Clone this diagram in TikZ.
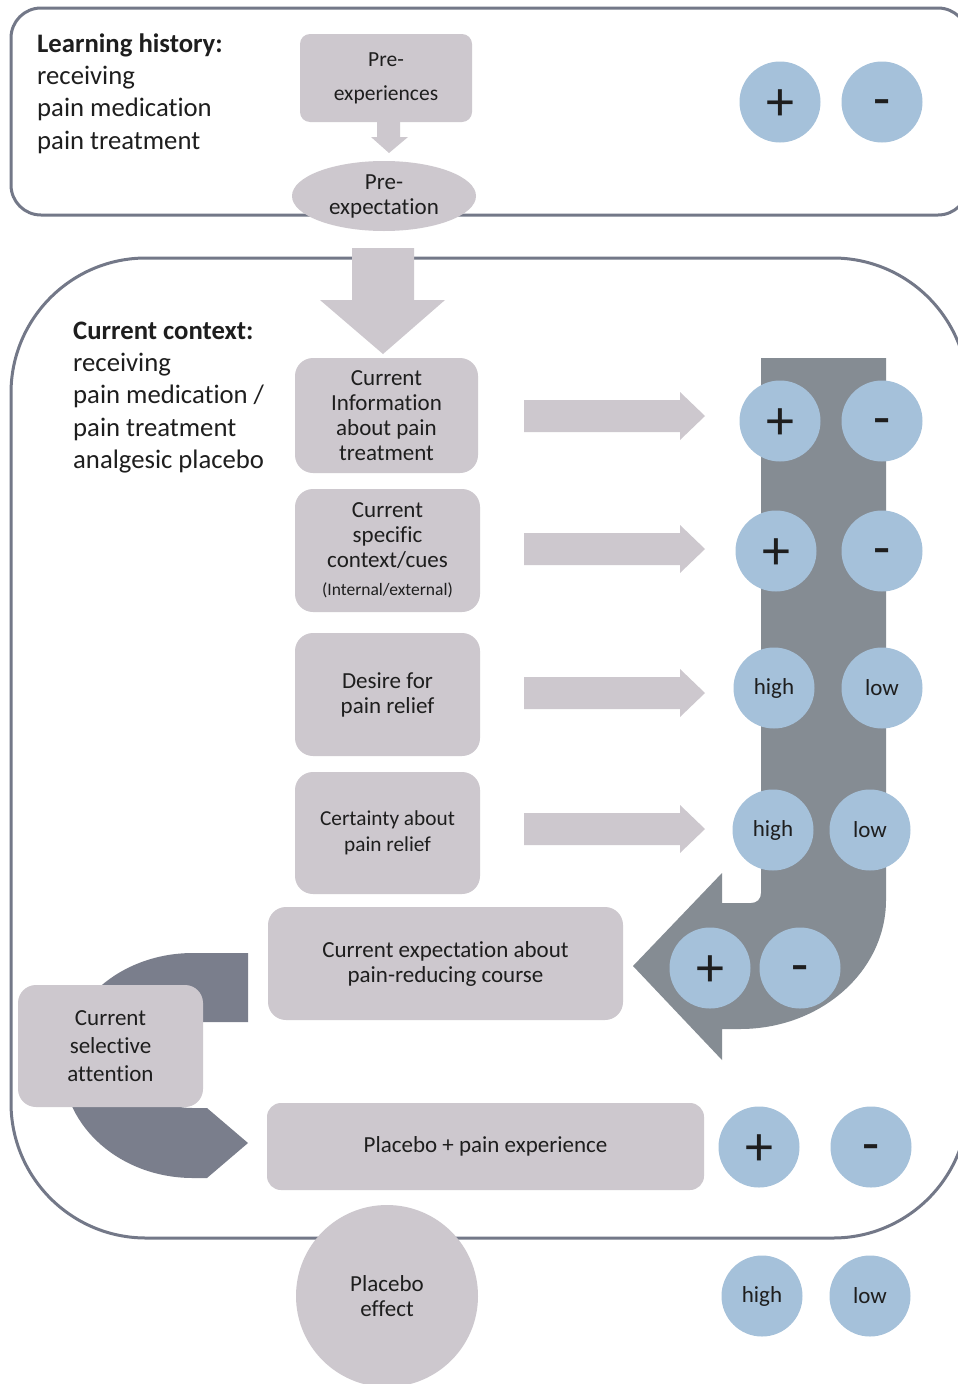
\documentclass[tikz,border=0pt]{standalone}
\usepackage{fontspec}
\setmainfont{Carlito}[Ligatures=NoCommon]
\usetikzlibrary{shapes.geometric}
\definecolor{boxc}{HTML}{CDC8CE}
\definecolor{bluec}{HTML}{A5C1DA}
\definecolor{grayc}{HTML}{858C93}
\definecolor{darkc}{HTML}{7A7E8C}
\definecolor{framec}{HTML}{737888}
\definecolor{txt}{HTML}{1E1E1E}
\newcommand\lightarrow[1]{\fill[boxc, shift={(0,#1)}] (524,-16) -- (680,-16) -- (680,-24) -- (705,0) -- (680,24) -- (680,16) -- (524,16) -- cycle;}
\begin{document}
\begin{tikzpicture}[x=1pt,y=-1pt,
 frame/.style={draw=framec,line width=3pt},
 bx/.style={fill=boxc, rounded corners=18pt, align=center, inner sep=0pt, text=txt, font=\fontsize{23}{25}\selectfont},
 ell/.style={ellipse, fill=boxc, inner sep=0pt, align=center, text=txt, font=\fontsize{23}{25}\selectfont},
 bc/.style={circle, fill=bluec, minimum size=81pt, inner sep=0pt, text=txt, font=\fontsize{23}{25}\selectfont},
 pl/.style={bc, font=\fontsize{56}{56}\selectfont, text height=37pt, text depth=0pt},
 mi/.style={bc, font=\fontsize{56}{56}\selectfont, text height=31pt, text depth=0pt},
 lt/.style={anchor=base west, inner sep=0pt, text=txt, font=\fontsize{26.7}{32}\selectfont},
]
\useasboundingbox (0,0) rectangle (958,1384);
\fill[white] (0,0) rectangle (958,1384);
% frames
\draw[frame, rounded corners=30pt] (11,8) rectangle (968,215);
\draw[frame, rounded corners=135pt] (11,258) rectangle (968,1238);
% big gray arrow
\fill[grayc] (761,358) -- (886,358) -- (886,900)
  .. controls (886,971) and (821,1029) .. (740,1029)
  -- (722,1029) -- (722,1060) -- (633,966) -- (722,873) -- (722,903) -- (751,903)
  .. controls (757,903) and (761,899) .. (761,893) -- cycle;
% left curved arrow
\fill[darkc] (248,953) -- (193,953)
  .. controls (121,953) and (63,1003) .. (63,1065)
  .. controls (63,1127) and (121,1178) .. (193,1178)
  -- (207,1178) -- (248,1143) -- (207,1108) -- (193,1108)
  .. controls (160,1108) and (133,1089) .. (133,1065)
  .. controls (133,1041) and (160,1022) .. (193,1022)
  -- (248,1022) -- cycle;
% down arrows
\fill[boxc] (377,120) -- (400,120) -- (400,137) -- (408,137) -- (389,153) -- (371,137) -- (377,137) -- cycle;
\fill[boxc] (352,248) -- (414,248) -- (414,300) -- (445,300) -- (383,354) -- (320,300) -- (352,300) -- cycle;
% texts
\node[lt] (lh1) at (37,52) {\bfseries Learning history:};
\node[lt] (lh2) at (37,84) {receiving};
\node[lt] (lh3) at (37,116) {pain medication};
\node[lt] (lh4) at (37,149) {pain treatment};
\node[lt] (cc1) at (73,339) {\bfseries Current context:};
\node[lt] (cc2) at (73,371) {receiving};
\node[lt] (cc3) at (73,403) {pain medication /};
\node[lt] (cc4) at (73,436) {pain treatment};
\node[lt] (cc5) at (73,468) {analgesic placebo};
% boxes
\node[bx, rounded corners=10pt, minimum width=172pt, minimum height=88pt, font=\fontsize{21.5}{34}\selectfont] (preexp) at (386,78) {Pre-\\experiences};
\node[ell, minimum width=184pt, minimum height=70pt] (preexpect) at (384,196) {Pre-\\expectation};
\node[bx, minimum width=183pt, minimum height=115pt] (info) at (386.5,415.5) {Current\\Information\\about pain\\treatment};
\node[bx, minimum width=185pt, minimum height=123pt] (cues) at (387.5,550.5) {Current\\specific\\context/cues\\[3pt]{\fontsize{17.5}{19}\selectfont(Internal/external)}};
\node[bx, minimum width=185pt, minimum height=123pt] (desire) at (387.5,694.5) {Desire for\\pain relief};
\node[bx, minimum width=185pt, minimum height=122pt, font=\fontsize{21.3}{26}\selectfont] (cert) at (387.5,833) {Certainty about\\pain relief};
\node[bx, minimum width=355pt, minimum height=113pt] (expect) at (445.5,963.5) {Current expectation about\\pain-reducing course};
\node[bx, minimum width=185pt, minimum height=122pt, font=\fontsize{23}{28}\selectfont] (attn) at (110.5,1046) {Current\\selective\\attention};
\node[bx, rounded corners=14pt, minimum width=437pt, minimum height=87pt] (exper) at (485.5,1146.5) {Placebo + pain experience};
\node[ell, minimum width=182pt, minimum height=182pt] (effect) at (387,1296) {Placebo\\effect};
% light arrows
\lightarrow{416}
\lightarrow{549}
\lightarrow{693}
\lightarrow{829}
% circles
\node[pl] (p0) at (780,102) {+};
\node[mi] (m0) at (882,102) {-};
\node[pl] (p1) at (780,421) {+};
\node[mi] (m1) at (882,421) {-};
\node[pl] (p2) at (776,551) {+};
\node[mi] (m2) at (882,551) {-};
\node[bc] (h3) at (774,688) {high};
\node[bc] (l3) at (882,688) {low};
\node[bc] (h4) at (773,830) {high};
\node[bc] (l4) at (870,830) {low};
\node[pl] (p5) at (710,968) {+};
\node[mi] (m5) at (800,968) {-};
\node[pl] (p6) at (759,1147) {+};
\node[mi] (m6) at (871,1147) {-};
\node[bc] (h7) at (762,1296) {high};
\node[bc] (l7) at (870,1296) {low};
\end{tikzpicture}
\end{document}
